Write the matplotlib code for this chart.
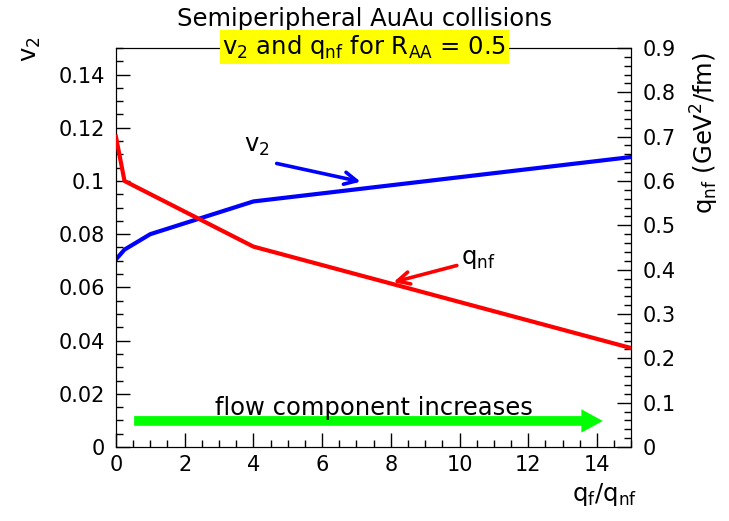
import matplotlib
matplotlib.use("Agg")
import matplotlib.pyplot as plt
from matplotlib.ticker import MultipleLocator

# data
v2_x = [0.0, 0.25, 1.0, 4.0, 15.0]
v2_y = [0.0705, 0.0742, 0.080, 0.0923, 0.109]
qnf_x = [0.0, 0.25, 4.0, 15.0]
qnf_y = [0.70, 0.60, 0.452, 0.223]

plt.rcParams['font.family'] = ['DejaVu Sans']
fig = plt.figure(figsize=(7.29, 5.21), dpi=100)
ax = fig.add_axes([0.159, 0.142, 0.707, 0.766])
ax2 = ax.twinx()

ax.set_xlim(0, 15)
ax.set_ylim(0, 0.15)
ax2.set_ylim(0, 0.9)

ax.plot(v2_x, v2_y, color='#0000ff', lw=3, zorder=3)
ax2.plot(qnf_x, qnf_y, color='#ff0000', lw=3, zorder=3)

fs = 15
big = 17.5
ax.xaxis.set_major_locator(MultipleLocator(2))
ax.xaxis.set_minor_locator(MultipleLocator(0.5))
ax.yaxis.set_major_locator(MultipleLocator(0.02))
ax.yaxis.set_minor_locator(MultipleLocator(0.005))
ax2.yaxis.set_major_locator(MultipleLocator(0.1))
ax2.yaxis.set_minor_locator(MultipleLocator(0.02))

ax.tick_params(axis='x', which='both', direction='in', top=False, labelsize=fs, pad=6)
ax.tick_params(axis='y', which='both', direction='in', right=False, labelsize=fs, pad=8)
ax2.tick_params(axis='y', which='both', direction='in', labelsize=fs, pad=8)
for a in (ax, ax2):
    a.tick_params(which='major', length=10, width=1)
    a.tick_params(which='minor', length=5, width=1)

ax.set_yticks([0, 0.02, 0.04, 0.06, 0.08, 0.1, 0.12, 0.14])
ax.set_yticklabels(['0', '0.02', '0.04', '0.06', '0.08', '0.1', '0.12', '0.14'])
ax2.set_yticks([0, 0.1, 0.2, 0.3, 0.4, 0.5, 0.6, 0.7, 0.8, 0.9])
ax2.set_yticklabels(['0', '0.1', '0.2', '0.3', '0.4', '0.5', '0.6', '0.7', '0.8', '0.9'])

# annotations
ax.annotate('', xy=(7.2, 0.0995), xytext=(4.6, 0.1068),
            arrowprops=dict(arrowstyle='->', color='#0000ff', lw=2.6, mutation_scale=22))
ax.text(4.1, 0.1085, r'$\mathregular{v_2}$', fontsize=big, ha='center', va='bottom')
ax.annotate('', xy=(8.0, 0.0617), xytext=(10.0, 0.0685),
            arrowprops=dict(arrowstyle='->', color='#ff0000', lw=2.6, mutation_scale=22))
ax.text(10.05, 0.0705, r'$\mathregular{q_{nf}}$', fontsize=big, ha='left', va='center')

ax.annotate('', xy=(14.25, 0.0098), xytext=(0.45, 0.0098),
            arrowprops=dict(arrowstyle='simple,head_width=1.2,head_length=1.1,tail_width=0.5',
                            color='#00ff00', lw=0, mutation_scale=14))
ax.text(7.5, 0.0148, 'flow component increases', fontsize=big, ha='center', va='center')

# titles
fig.text(0.50, 0.963, 'Semiperipheral AuAu collisions', fontsize=big, ha='center', va='center')
fig.text(0.50, 0.909, r'$\mathregular{v_2}$ and $\mathregular{q_{nf}}$ for $\mathregular{R_{AA}}$ = 0.5',
         fontsize=big, ha='center', va='center',
         bbox=dict(boxstyle='square,pad=0.12', facecolor='#ffff00', edgecolor='none'), zorder=10)

fig.text(0.042, 0.905, r'$\mathregular{v_2}$', fontsize=big, rotation=90, ha='center', va='center')
fig.text(0.967, 0.745, r'$\mathregular{q_{nf}}$ (GeV$\mathregular{^2}$/fm)', fontsize=big,
         rotation=90, ha='center', va='center')
fig.text(0.83, 0.05, r'$\mathregular{q_f/q_{nf}}$', fontsize=big, ha='center', va='center')

fig.savefig('out.png', dpi=100)
